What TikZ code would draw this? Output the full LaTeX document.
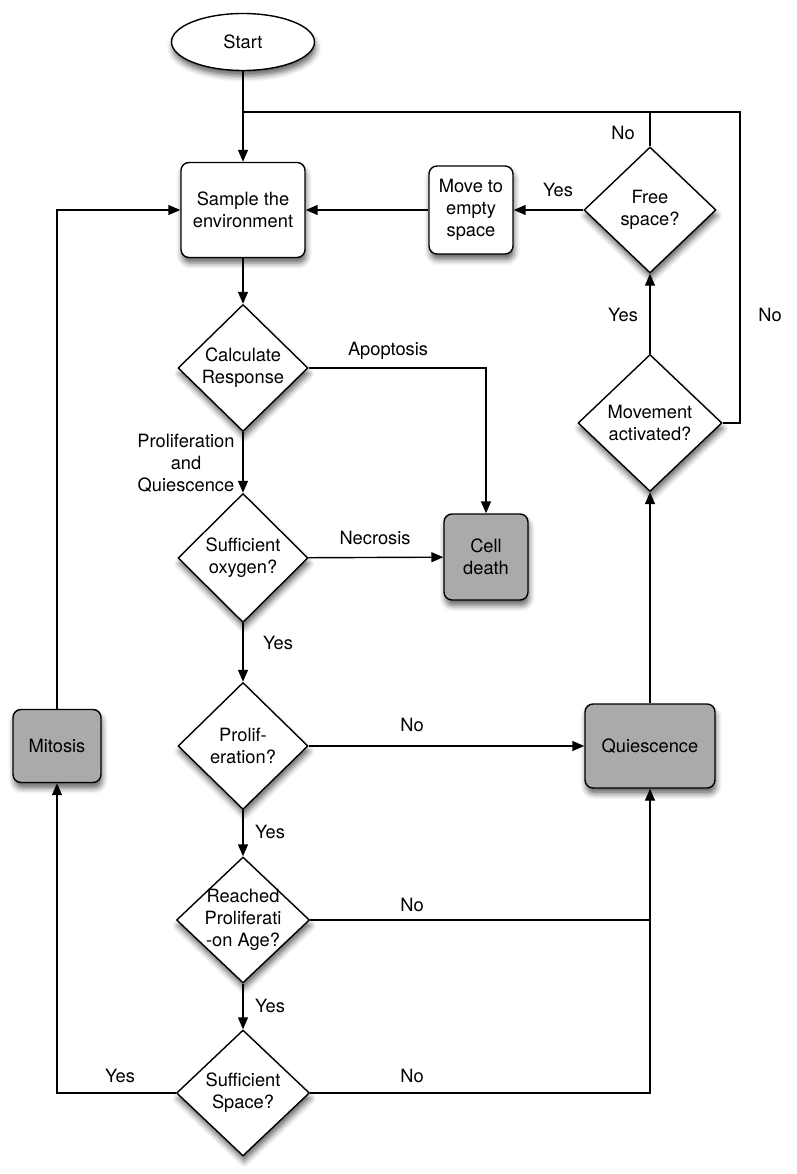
\documentclass[tikz,border=0pt]{standalone}
\usepackage{fontspec}
\setmainfont{TeX Gyre Heros}
\usepackage{xcolor}
\usepackage{tikz}
\usetikzlibrary{arrows.meta,shapes.geometric,shadows.blur}
\definecolor{boxgray}{RGB}{170,170,170}
\newcommand{\lblfont}{\fontsize{13}{15.6}\selectfont}
\tikzset{
  boxsize/.style 2 args={minimum width=#1*0.025cm,minimum height=#2*0.025cm},
  base/.style={draw,line width=1pt,align=center,font=\lblfont,
    blur shadow={shadow xshift=0.3mm,shadow yshift=-1.4mm,shadow blur radius=1.4mm,shadow opacity=60}},
  proc/.style={base,rectangle,rounded corners=2mm,fill=white,inner sep=1pt},
  stop/.style={proc,fill=boxgray},
  decide/.style={base,diamond,fill=white,inner sep=0pt},
  term/.style={base,ellipse,fill=white,inner sep=0pt},
  wire/.style={line width=1pt},
  flow/.style={wire,-{Triangle[length=3mm,width=2.5mm]}},
  lbl/.style={font=\lblfont,align=center,inner sep=0pt}
}

\begin{document}
\begin{tikzpicture}[x=0.025cm,y=-0.025cm]
  \useasboundingbox (0,0) rectangle (796,1174);
  \node[term,boxsize={143}{57}] (start) at (243,42) {Start};
  \node[proc,boxsize={124}{95}] (sample) at (243,210) {Sample the\\environment};
  \node[proc,boxsize={84}{88}] (move) at (471,210) {Move to\\empty\\space};
  \node[decide,boxsize={132}{126}] (free) at (650,210) {Free\\space?};
  \node[decide,boxsize={144}{137}] (active) at (650,423) {Movement\\activated?};
  \node[decide,boxsize={130}{127}] (calc) at (243,368) {Calculate\\Response};
  \node[decide,boxsize={130}{129}] (oxygen) at (243,558) {Sufficient\\oxygen?};
  \node[stop,boxsize={84}{86}] (death) at (486,557) {Cell\\death};
  \node[decide,boxsize={130}{127}] (prolif) at (243,746) {Prolif-\\eration?};
  \node[stop,boxsize={130}{84}] (quies) at (650,746) {Quiescence};
  \node[stop,boxsize={88}{73}] (mitosis) at (57,746) {Mitosis};
  \node[decide,boxsize={133}{126},inner sep=-3mm] (age) at (243,920) {Reached\\Proliferati\\-on Age?};
  \node[decide,boxsize={133}{126}] (space) at (243,1093) {Sufficient\\Space?};

  \coordinate (topR) at (740,112);
  \draw[flow] (start) -- (sample);
  \draw[wire] (active.east) -| (topR) -- (topR -| start.south);
  \draw[wire] (free.north) -- (free.north |- topR);
  \draw[flow] (free.west) -- (move.east);
  \draw[flow] (move.west) -- (sample.east);
  \draw[flow] (active.north) -- (free.south);
  \draw[flow] (quies.north) -- (active.south);
  \draw[flow] (sample) -- (calc);
  \draw[flow] (calc.east) -| (death.north);
  \draw[flow] (calc) -- (oxygen);
  \draw[flow] (oxygen) -- (death);
  \draw[flow] (oxygen) -- (prolif);
  \draw[flow] (prolif) -- (quies);
  \draw[flow] (prolif) -- (age);
  \draw[flow] (age) -- (space);
  \draw[wire] (age.east) -- (age.east -| quies.south);
  \draw[flow] (space.east) -| (quies.south);
  \draw[flow] (space.west) -| (mitosis.south);
  \draw[flow] (mitosis.north) |- (sample.west);

  \node[lbl] (freeNo) at (623,133) {No};
  \node[lbl] (freeYes) at (558,190) {Yes};
  \node[lbl] (activeYes) at (623,315) {Yes};
  \node[lbl] (activeNo) at (770,315) {No};
  \node[lbl] (apoptosis) at (388,351) {Apoptosis};
  \node[lbl] (prolifQuies) at (186,463) {Proliferation\\and\\Quiescence};
  \node[lbl] (necrosis) at (375,538) {Necrosis};
  \node[lbl] (oxygenYes) at (278,643) {Yes};
  \node[lbl] (prolifNo) at (412,725) {No};
  \node[lbl] (prolifYes) at (270,832) {Yes};
  \node[lbl] (ageNo) at (412,905) {No};
  \node[lbl] (ageYes) at (270,1006) {Yes};
  \node[lbl] (spaceNo) at (412,1076) {No};
  \node[lbl] (spaceYes) at (120,1076) {Yes};
\end{tikzpicture}
\end{document}
